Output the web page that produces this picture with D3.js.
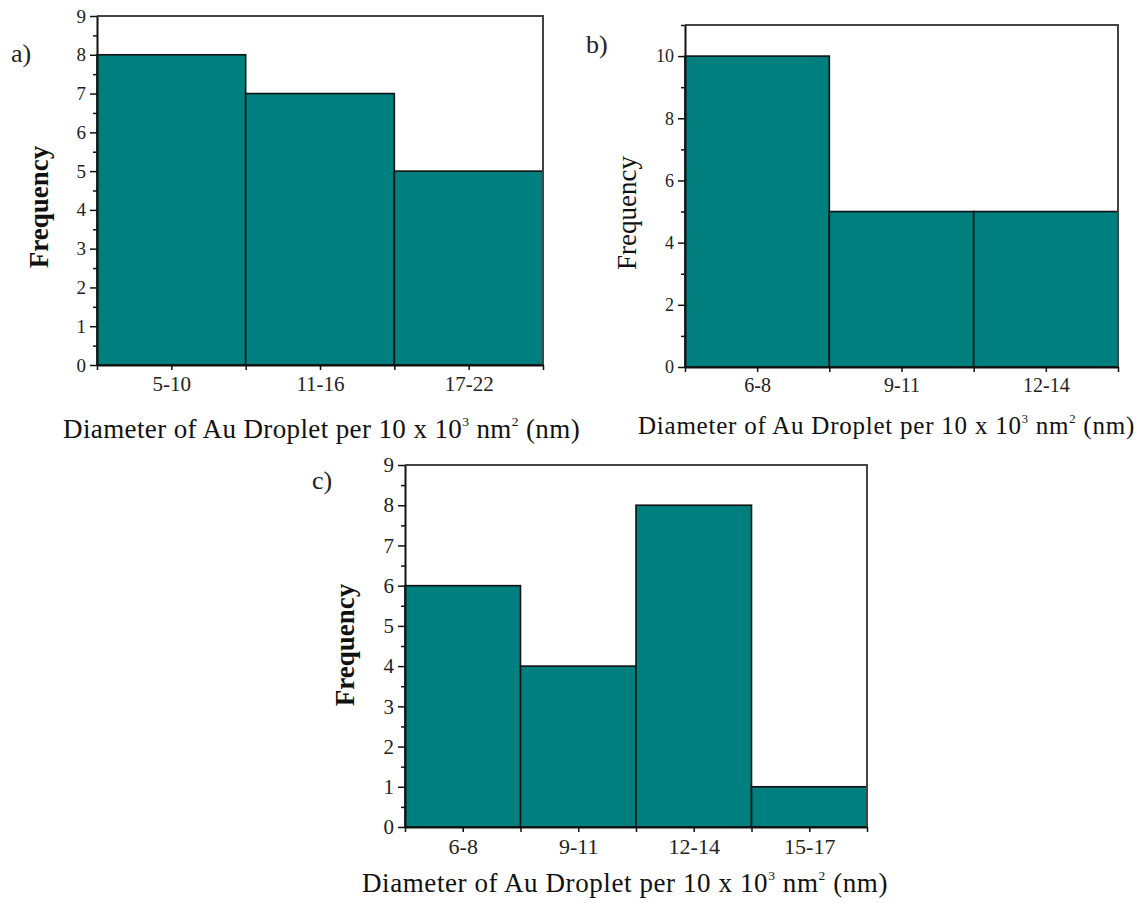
<!DOCTYPE html>
<html><head><meta charset="utf-8">
<script src="https://cdn.jsdelivr.net/npm/d3@7"></script>
<style>body{margin:0;background:#fff;} text{font-family:"Liberation Serif","Times New Roman",serif;}</style>
</head><body>
<svg id="chart" width="1139" height="903"></svg>
<script>
// ---- data ----
const catsA = ["5-10", "11-16", "17-22"];
const valsA = [8, 7, 5];
const yTicksA = [0, 1, 2, 3, 4, 5, 6, 7, 8, 9];

const catsB = ["6-8", "9-11", "12-14"];
const valsB = [10, 5, 5];
const yTicksB = [0, 2, 4, 6, 8, 10];

const catsC = ["6-8", "9-11", "12-14", "15-17"];
const valsC = [6, 4, 8, 1];
const yTicksC = [0, 1, 2, 3, 4, 5, 6, 7, 8, 9];

const panelLabels = ["a)", "b)", "c)"];
const yTitle = "Frequency";
const xTitleParts = ["Diameter of Au Droplet per 10 x 10", "3", " nm", "2", " (nm)"];

const svg = d3.select("#chart");

function panel(cfg) {
  const {cats, vals, yTicks, yMax, minorStep, x0, x1, yTop, yBot, yTickFont, xTickFont, label, labelX, labelY,
         yTitleX, yTitleY, yTitleBold, titleX, titleY, titleEnd, titleSize} = cfg;
  const g = svg.append("g");
  const n = cats.length;
  const xb = d3.scaleBand().domain(cats).range([x0, x1]).padding(0);
  const xl = d3.scaleLinear().domain([0, n]).range([x0, x1]);
  const y = d3.scaleLinear().domain([0, yMax]).range([yBot, yTop]);

  // bars
  g.selectAll("rect.bar").data(vals).enter().append("rect")
    .attr("x", (d, i) => xb(cats[i]))
    .attr("width", xb.bandwidth())
    .attr("y", d => y(d))
    .attr("height", d => y(0) - y(d))
    .attr("fill", "#007f7f")
    .attr("stroke", "#111")
    .attr("stroke-width", 1.6);

  // frame top / right
  g.append("path")
    .attr("d", `M${x0},${yTop}H${x1}V${yBot}`)
    .attr("fill", "none").attr("stroke", "#444").attr("stroke-width", 2);

  // y axis minor
  const minors = d3.range(0, yMax + 1e-9, minorStep).filter(v => !yTicks.includes(v));
  g.append("g").attr("transform", `translate(${x0},0)`)
    .call(d3.axisLeft(y).tickValues(minors).tickSize(4).tickFormat(""))
    .call(s => s.select(".domain").remove())
    .selectAll("line").attr("stroke", "#111").attr("stroke-width", 1.5);
  // y axis major
  const ya = g.append("g").attr("transform", `translate(${x0},0)`)
    .call(d3.axisLeft(y).tickValues(yTicks).tickSize(7).tickSizeOuter(0).tickPadding(4));
  ya.select(".domain").attr("stroke", "#111").attr("stroke-width", 2);
  ya.selectAll("line").attr("stroke", "#111").attr("stroke-width", 1.5);
  ya.selectAll("text").style("font-family", "'Liberation Serif',serif").style("font-size", yTickFont + "px").attr("fill", "#222");

  // x axis
  const xt = d3.range(0, n + 0.01, 0.5);
  const xa = g.append("g").attr("transform", `translate(0,${yBot})`)
    .call(d3.axisBottom(xl).tickValues(xt).tickSize(5).tickSizeOuter(0).tickPadding(6)
      .tickFormat(v => (v % 1 === 0.5) ? cats[Math.floor(v)] : ""));
  xa.select(".domain").attr("stroke", "#111").attr("stroke-width", 2);
  xa.selectAll("line").attr("stroke", "#111").attr("stroke-width", 1.5);
  xa.selectAll("text").style("font-family", "'Liberation Serif',serif").style("font-size", xTickFont + "px").attr("fill", "#222");

  // panel label
  g.append("text").attr("x", labelX).attr("y", labelY).text(label)
    .style("font-size", "26px").attr("fill", "#222");

  // y title
  g.append("text").attr("transform", `translate(${yTitleX},${yTitleY}) rotate(-90)`)
    .attr("text-anchor", "middle").text(yTitle)
    .style("font-size", "27px").style("font-weight", yTitleBold ? "bold" : "normal").attr("fill", "#111");

  // x title
  const t = g.append("text").attr("x", titleX).attr("y", titleY)
    .style("font-size", titleSize + "px").attr("fill", "#111");
  const sup = Math.round(titleSize * 0.45);
  const supSize = titleSize * 0.5;
  xTitleParts.forEach((p, i) => {
    const ts = t.append("tspan").text(p);
    if (i === 1 || i === 3) ts.attr("dy", -sup).style("font-size", supSize + "px");
    else if (i > 0) ts.attr("dy", sup);
  });
  const w = t.node().getComputedTextLength();
  const nChars = xTitleParts.join("").length;
  const ls = (titleEnd - titleX - w) / nChars;
  t.style("letter-spacing", ls + "px");
}

panel({cats: catsA, vals: valsA, yTicks: yTicksA, yMax: 9, minorStep: 0.5,
  x0: 97, x1: 543, yTop: 16, yBot: 365, yTickFont: 19, xTickFont: 21, label: panelLabels[0], labelX: 11, labelY: 62,
  yTitleX: 48, yTitleY: 207, yTitleBold: true, titleX: 63, titleY: 438, titleEnd: 580, titleSize: 27});

panel({cats: catsB, vals: valsB, yTicks: yTicksB, yMax: 11, minorStep: 1,
  x0: 685, x1: 1118, yTop: 25, yBot: 367, yTickFont: 18, xTickFont: 20, label: panelLabels[1], labelX: 586, labelY: 53,
  yTitleX: 636, yTitleY: 213, yTitleBold: false, titleX: 638, titleY: 434, titleEnd: 1135, titleSize: 25});

panel({cats: catsC, vals: valsC, yTicks: yTicksC, yMax: 9, minorStep: 0.5,
  x0: 405, x1: 867, yTop: 465, yBot: 827, yTickFont: 21, xTickFont: 22, label: panelLabels[2], labelX: 312, labelY: 489,
  yTitleX: 354, yTitleY: 645, yTitleBold: true, titleX: 362, titleY: 892, titleEnd: 888, titleSize: 27});
</script>
</body></html>
